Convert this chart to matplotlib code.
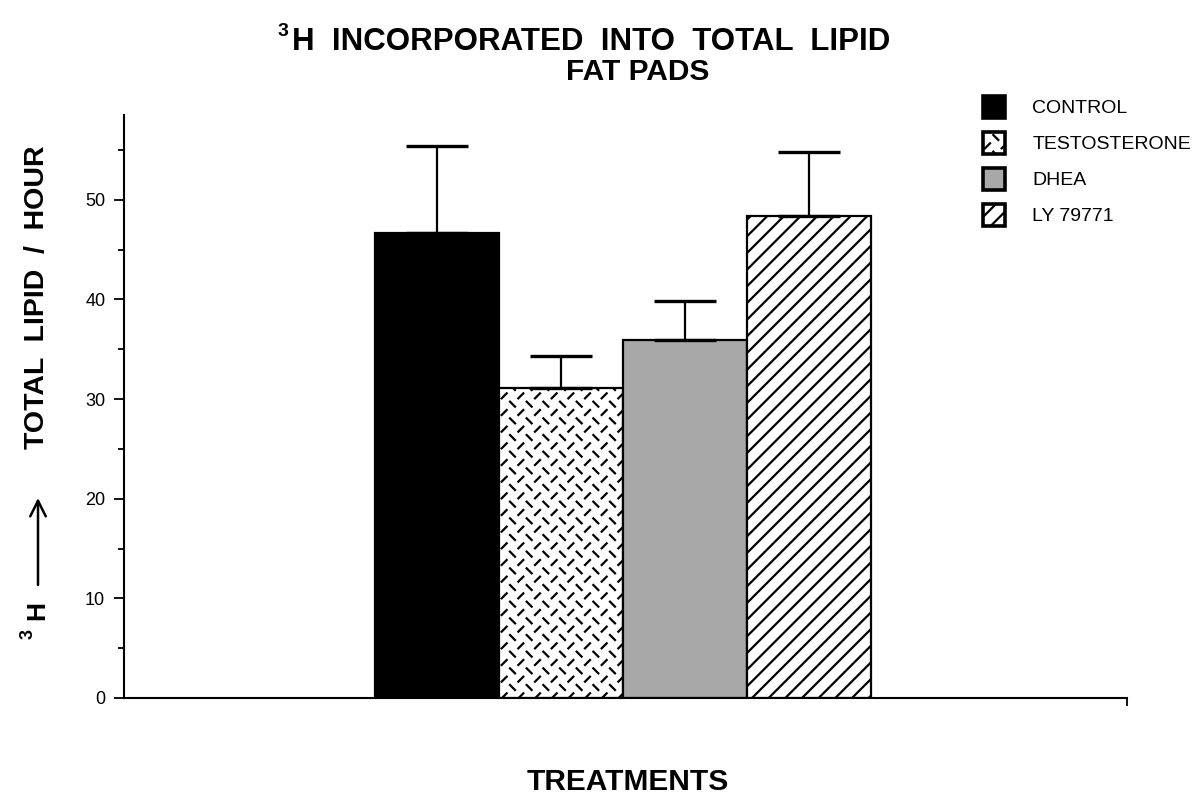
import numpy as np
import matplotlib
matplotlib.use('Agg')
import matplotlib.pyplot as plt
from matplotlib import hatch as mhatch
from matplotlib.path import Path

# ---------------- data ----------------
categories = ['CONTROL', 'TESTOSTERONE', 'DHEA', 'LY 79771']
means = [46.7, 31.1, 35.9, 48.4]
sem = [8.7, 3.2, 3.9, 6.4]
yticks_major = [0, 10, 20, 30, 40, 50]
yticks_minor = [5, 15, 25, 35, 45, 55]


# ------------- custom staggered dash hatch (replaces '*') -------------
class StaggeredDash(mhatch.HatchPatternBase):
    def __init__(self, hatch, density):
        self.n = 12 * hatch.count('*')
        self.num_vertices = (self.n * self.n // 2) * 2

    def set_vertices_and_codes(self, vertices, codes):
        n = self.n
        I, J = np.meshgrid(np.arange(n), np.arange(n))
        I = I.ravel(); J = J.ravel()
        keep = (I + J) % 2 == 0
        I = I[keep]; J = J[keep]
        X = (I + 0.5) / n
        Y = (J + 0.5) / n
        sgn = np.where(J % 2 == 0, 1.0, -1.0)
        h = 0.025
        vertices[0::2, 0] = X - h
        vertices[0::2, 1] = Y - h * sgn
        vertices[1::2, 0] = X + h
        vertices[1::2, 1] = Y + h * sgn
        codes[0::2] = Path.MOVETO
        codes[1::2] = Path.LINETO


mhatch._hatch_types[:] = [StaggeredDash if t is mhatch.Stars else t
                          for t in mhatch._hatch_types]

plt.rcParams['font.family'] = ['Liberation Sans', 'DejaVu Sans']
plt.rcParams['hatch.linewidth'] = 1.6

W, H = 1198, 796
fig = plt.figure(figsize=(W / 100, H / 100), dpi=100)
fig.patch.set_facecolor('white')

ax_l, ax_r, ax_t, ax_b = 124, 1127, 115, 698
ax = fig.add_axes([ax_l / W, 1 - ax_b / H, (ax_r - ax_l) / W, (ax_b - ax_t) / H])

x = np.arange(len(categories))
styles = [
    dict(facecolor='black', hatch=None),
    dict(facecolor='white', hatch='*'),
    dict(facecolor='#a8a8a8', hatch=None),
    dict(facecolor='white', hatch='//'),
]
bars = ax.bar(x, means, width=1.0, edgecolor='black', linewidth=1.6, zorder=2)
for b, st, lab in zip(bars, styles, categories):
    b.set_facecolor(st['facecolor'])
    if st['hatch']:
        b.set_hatch(st['hatch'])
    b.set_label(lab)

ax.errorbar(x, means, yerr=[np.zeros(len(sem)), sem], fmt='none',
            ecolor='black', elinewidth=1.6, capsize=22, capthick=2.4, zorder=3)

bar_px = 124.0
xl = -(437 - ax_l) / bar_px
xr = xl + (ax_r - ax_l) / bar_px
ax.set_xlim(xl, xr)
ax.set_ylim(0, 58.5)

for s in ['top', 'right']:
    ax.spines[s].set_visible(False)
ax.spines['left'].set_linewidth(1.5)
ax.spines['bottom'].set_linewidth(1.5)

ax.set_yticks(yticks_major)
ax.set_yticks(yticks_minor, minor=True)
ax.set_yticklabels([str(v) for v in yticks_major], fontsize=13)
ax.tick_params(axis='y', which='major', direction='out', length=7.5, width=1.3, pad=6)
ax.tick_params(axis='y', which='minor', direction='out', length=4.5, width=1.3)
ax.set_xticks([xr])
ax.set_xticklabels([''])
ax.tick_params(axis='x', direction='out', length=6, width=1.3)

# legend
leg = ax.legend(handles=list(bars), labels=categories, loc='upper left',
                bbox_to_anchor=(983 / W, 1 - 96 / H), bbox_transform=fig.transFigure,
                frameon=False, borderpad=0, borderaxespad=0,
                handlelength=1.13, handleheight=1.36, handletextpad=1.4,
                labelspacing=0.72, prop=dict(family='Liberation Sans', size=14))
for hnd in leg.legend_handles:
    hnd.set_linewidth(2.6)


def ft(px, py, s, **kw):
    return fig.text(px / W, 1 - py / H, s, **kw)


# title
ft(278, 32, '3', fontsize=14, fontweight='bold', ha='left', va='center')
ft(292, 42, 'H  INCORPORATED  INTO  TOTAL  LIPID', fontsize=22.5,
   fontweight='bold', ha='left', va='center')
ft(638, 72, 'FAT PADS', fontsize=21.5, fontweight='bold', ha='center', va='center')

# x label
ft(628, 782, 'TREATMENTS', fontsize=21.5, fontweight='bold', ha='center', va='center')

# y label
ft(37, 297, 'TOTAL  LIPID  /  HOUR', fontsize=20.5, fontweight='bold',
   rotation=90, ha='center', va='center')
ft(37, 610, 'H', fontsize=19, fontweight='bold', rotation=90, ha='center', va='center')
ft(28, 634, '3', fontsize=13, fontweight='bold', rotation=90, ha='center', va='center')
ax.annotate('', xy=(38 / W, 1 - 498 / H), xytext=(38 / W, 1 - 585 / H),
            xycoords='figure fraction', textcoords='figure fraction',
            arrowprops=dict(arrowstyle='->', lw=1.8, mutation_scale=28,
                            color='black', shrinkA=0, shrinkB=0))

fig.savefig('out.png', dpi=100, facecolor='white')
